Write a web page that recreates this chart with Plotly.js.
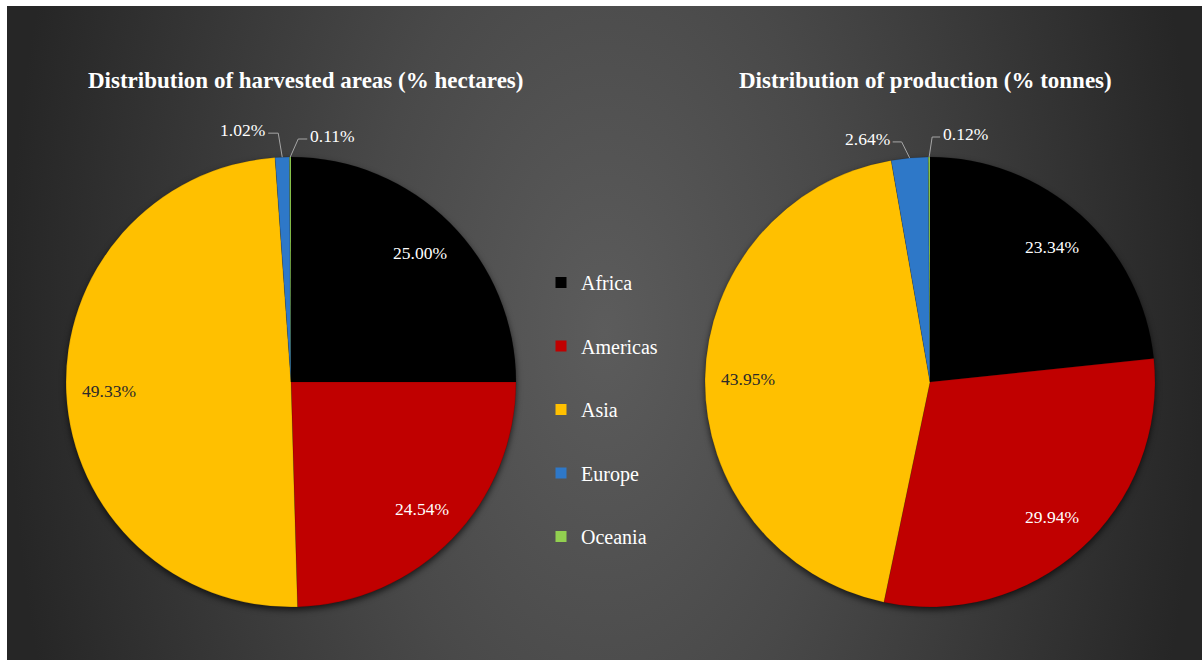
<!DOCTYPE html>
<html>
<head>
<meta charset="utf-8">
<script src="https://cdn.plot.ly/plotly-3.0.1.min.js"></script>
<style>
  html, body { margin: 0; padding: 0; background: #ffffff; width: 1202px; height: 660px; overflow: hidden; }
  #bg { position: absolute; left: 7px; top: 6px; width: 1195px; height: 654px;
        background: radial-gradient(ellipse 50% 160% at 50% 50%, #5c5c5c 0%, #494949 40%, #262626 100%); }
  #chart { position: absolute; left: 0; top: 0; width: 1202px; height: 660px; }
  .pielayer g.trace { filter: drop-shadow(0px 3px 3px rgba(0,0,0,0.65)); }
</style>
</head>
<body>
<div id="bg"></div>
<div id="chart"></div>
<script>
// ---------------- data ----------------
const regions = ["Africa", "Americas", "Asia", "Europe", "Oceania"];
const harvestedAreaPct = [25.00, 24.54, 49.33, 1.02, 0.11];
const productionPct = [23.34, 29.94, 43.95, 2.64, 0.12];
const regionColors = ["#000000", "#C00000", "#FFC000", "#2E78C8", "#92D050"];
const leftTitle = "Distribution of harvested areas (% hectares)";
const rightTitle = "Distribution of production (% tonnes)";

// ---------------- layout / style ----------------
const W = 1202, H = 660;
const FONT = "Liberation Serif, 'Times New Roman', serif";
const pies = [
  { cx: 291, cy: 382, r: 225, values: harvestedAreaPct, title: leftTitle, titleX: 305,
    // outside-label leader styling: [elbow dx, elbow dy, horizontal run]
    outside: { 3: [-4, -24, -10], 4: [8, -18, 9] } },
  { cx: 930, cy: 382, r: 225, values: productionPct, title: rightTitle, titleX: 925,
    outside: { 3: [-8, -16, -9], 4: [3, -20, 8] } }
];
const insideTextColors = ["#ffffff", "#ffffff", "#2a2a2a", "#ffffff", "#ffffff"];
const insideFrac = 0.81;

const px2x = px => px / W;
const py2y = py => (H - py) / H;

function midAngle(values, i) {
  const total = values.reduce((a, b) => a + b, 0);
  let before = 0;
  for (let k = 0; k < i; k++) before += values[k];
  return (before + values[i] / 2) / total * 2 * Math.PI;
}

const traces = [];
const annotations = [];
const shapes = [];

pies.forEach((p, pi) => {
  traces.push({
    type: "pie",
    labels: regions,
    values: p.values,
    sort: false,
    direction: "clockwise",
    rotation: 0,
    textinfo: "none",
    hoverinfo: "label+value",
    showlegend: false,
    marker: { colors: regionColors, line: { color: "rgba(0,0,0,0.25)", width: 0.5 } },
    domain: { x: [px2x(p.cx - p.r), px2x(p.cx + p.r)], y: [py2y(p.cy + p.r), py2y(p.cy - p.r)] }
  });

  annotations.push({
    xref: "paper", yref: "paper", x: px2x(p.titleX), y: py2y(80),
    xanchor: "center", yanchor: "middle", showarrow: false,
    text: "<b>" + p.title + "</b>",
    font: { family: FONT, size: 23, color: "#ffffff" }
  });

  p.values.forEach((v, i) => {
    const a = midAngle(p.values, i);
    const label = v.toFixed(2) + "%";
    if (p.outside[i]) {
      const [edx, edy, run] = p.outside[i];
      const sx = p.cx + p.r * Math.sin(a), sy = p.cy - p.r * Math.cos(a);
      const ex = sx + edx, ey = sy + edy;
      const hx = ex + run;
      shapes.push({
        type: "path", xref: "paper", yref: "paper",
        path: `M ${px2x(sx)} ${py2y(sy)} L ${px2x(ex)} ${py2y(ey)} L ${px2x(hx)} ${py2y(ey)}`,
        line: { color: "#a6a6a6", width: 1 }
      });
      annotations.push({
        xref: "paper", yref: "paper", x: px2x(hx + (run < 0 ? -1 : 1)), y: py2y(ey - 3),
        xanchor: run < 0 ? "right" : "left", yanchor: "middle", showarrow: false,
        text: label, font: { family: FONT, size: 17.5, color: "#ffffff" }
      });
    } else {
      const tx = p.cx + p.r * insideFrac * Math.sin(a);
      const ty = p.cy - p.r * insideFrac * Math.cos(a);
      annotations.push({
        xref: "paper", yref: "paper", x: px2x(tx), y: py2y(ty),
        xanchor: "center", yanchor: "middle", showarrow: false,
        text: label, font: { family: FONT, size: 17.5, color: insideTextColors[i] }
      });
    }
  });
});

// legend entries (one per region)
regions.forEach((name, i) => {
  traces.push({
    type: "scatter", mode: "markers", x: [null], y: [null], name: name,
    legendgroup: name, hoverinfo: "skip",
    marker: { symbol: "square", size: 11, color: regionColors[i] }
  });
});

const layout = {
  width: W, height: H,
  margin: { l: 0, r: 0, t: 0, b: 0 },
  paper_bgcolor: "rgba(0,0,0,0)",
  plot_bgcolor: "rgba(0,0,0,0)",
  xaxis: { visible: false, domain: [0.45, 0.46] },
  yaxis: { visible: false, domain: [0.45, 0.46] },
  showlegend: true,
  legend: {
    x: px2x(541), y: py2y(263), xanchor: "left", yanchor: "top",
    bgcolor: "rgba(0,0,0,0)", tracegroupgap: 34.5, traceorder: "grouped",
    font: { family: FONT, size: 20, color: "#ffffff" }
  },
  annotations: annotations,
  shapes: shapes
};

Plotly.newPlot("chart", traces, layout, { displayModeBar: false, staticPlot: true });
</script>
</body>
</html>
